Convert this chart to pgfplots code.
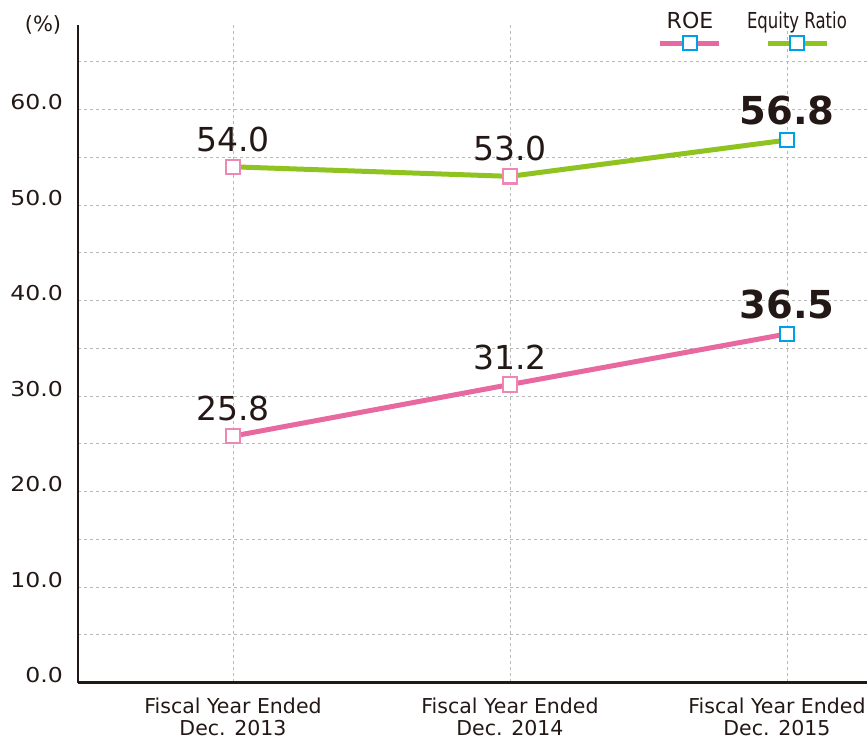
\documentclass[border=0pt]{standalone}
\usepackage{fontspec}
\setmainfont{DejaVu Sans}
\usepackage{pgfplots}
\pgfplotsset{compat=1.18}
\definecolor{roe}{RGB}{232,104,160}
\definecolor{roem}{RGB}{238,135,180}
\definecolor{eq}{RGB}{143,195,31}
\definecolor{bm}{RGB}{0,160,233}
\definecolor{gridc}{RGB}{185,185,185}
\definecolor{txt}{RGB}{35,24,21}
\begin{document}
\begin{tikzpicture}
\begin{axis}[
 at={(78bp,59.5bp)}, anchor=south west,
 scale only axis, width=789bp, height=657.5bp,
 xmin=-0.5596, xmax=2.289, ymin=0, ymax=68.85,
 axis x line=bottom, axis y line=left,
 axis line style={line width=2.5bp, -, color=txt},
 xtick={0,1,2},
 xticklabels={{Fiscal Year Ended\\Dec. 2013},{Fiscal Year Ended\\Dec. 2014},{Fiscal Year Ended\hspace*{20bp}\\Dec. 2015\hspace*{20bp}}},
 xticklabel style={anchor=north, inner sep=0pt, yshift=-15bp, align=center, font=\fontsize{20.5bp}{22bp}\selectfont, text=txt},
 ytick={0,10,...,60}, minor ytick={5,15,...,65},
 major tick length=0pt, minor tick length=0pt,
 ymajorgrids, yminorgrids, xmajorgrids,
 grid style={dash pattern=on 3bp off 3bp, line width=0.9bp, gridc},
 minor grid style={dash pattern=on 3bp off 3bp, line width=0.9bp, gridc},
 /pgf/number format/assume math mode=true,
 yticklabel={\scalebox{1.15}[1]{\pgfmathprintnumber[fixed,fixed zerofill,precision=1]{\tick}}},
 yticklabel style={anchor=base east, inner sep=0pt, xshift=-15bp, font=\fontsize{20.5bp}{21bp}\selectfont, text=txt},
 clip=false,
 every node near coord/.append style={anchor=base, inner sep=0pt, yshift=15.5bp, text=txt},
]
% lines
\addplot[roe, line width=5bp] coordinates {(0,25.8) (1,31.2) (2,36.5)};
\addplot[eq, line width=5bp] coordinates {(0,54.0) (1,53.0) (2,56.8)};
% markers + labels
\addplot[only marks, mark=square*, mark size=7.2bp, mark options={draw=roem, fill=white, line width=2.2bp},
  nodes near coords={\pgfmathprintnumber[fixed,fixed zerofill,precision=1]{\pgfplotspointmeta}},
  nodes near coords style={font=\fontsize{33bp}{33bp}\selectfont}]
  coordinates {(0,25.8) (1,31.2)};
\addplot[only marks, mark=square*, mark size=7.2bp, mark options={draw=roem, fill=white, line width=2.2bp},
  nodes near coords={\pgfmathprintnumber[fixed,fixed zerofill,precision=1]{\pgfplotspointmeta}},
  nodes near coords style={font=\fontsize{33bp}{33bp}\selectfont}]
  coordinates {(0,54.0) (1,53.0)};
\addplot[only marks, mark=square*, mark size=7.2bp, mark options={draw=bm, fill=white, line width=2.2bp},
  nodes near coords={\pgfmathprintnumber[fixed,fixed zerofill,precision=1]{\pgfplotspointmeta}},
  nodes near coords style={font=\fontsize{38.5bp}{38.5bp}\bfseries\selectfont}]
  coordinates {(2,36.5)};
\addplot[only marks, mark=square*, mark size=7.2bp, mark options={draw=bm, fill=white, line width=2.2bp},
  nodes near coords={\pgfmathprintnumber[fixed,fixed zerofill,precision=1]{\pgfplotspointmeta}},
  nodes near coords style={font=\fontsize{38.5bp}{38.5bp}\bfseries\selectfont}]
  coordinates {(2,56.8)};
% legend
\draw[roe, line width=5bp] (axis cs:1.5415,66.96) -- (axis cs:1.7545,66.96);
\node[draw=bm, fill=white, line width=2.2bp, minimum size=14.4bp, inner sep=0pt] at (axis cs:1.6498,66.96) {};
\node[anchor=base, inner sep=0pt, text=txt, font=\fontsize{22bp}{22bp}\selectfont] at (axis cs:1.6498,68.44) {ROE};
\draw[eq, line width=5bp] (axis cs:1.9314,66.96) -- (axis cs:2.1444,66.96);
\node[draw=bm, fill=white, line width=2.2bp, minimum size=14.4bp, inner sep=0pt] at (axis cs:2.0361,66.96) {};
\node[anchor=base, inner sep=0pt, text=txt, font=\fontsize{22bp}{22bp}\selectfont] at (axis cs:2.0361,68.44) {\scalebox{0.75}[1]{Equity Ratio}};
\node[anchor=base, inner sep=0pt, text=txt, font=\fontsize{21bp}{21bp}\selectfont] at (axis cs:-0.686,68.12) {(\%)};
\end{axis}
\pgfresetboundingbox
\path (0,0) rectangle (867bp,742bp);
\end{tikzpicture}
\end{document}
